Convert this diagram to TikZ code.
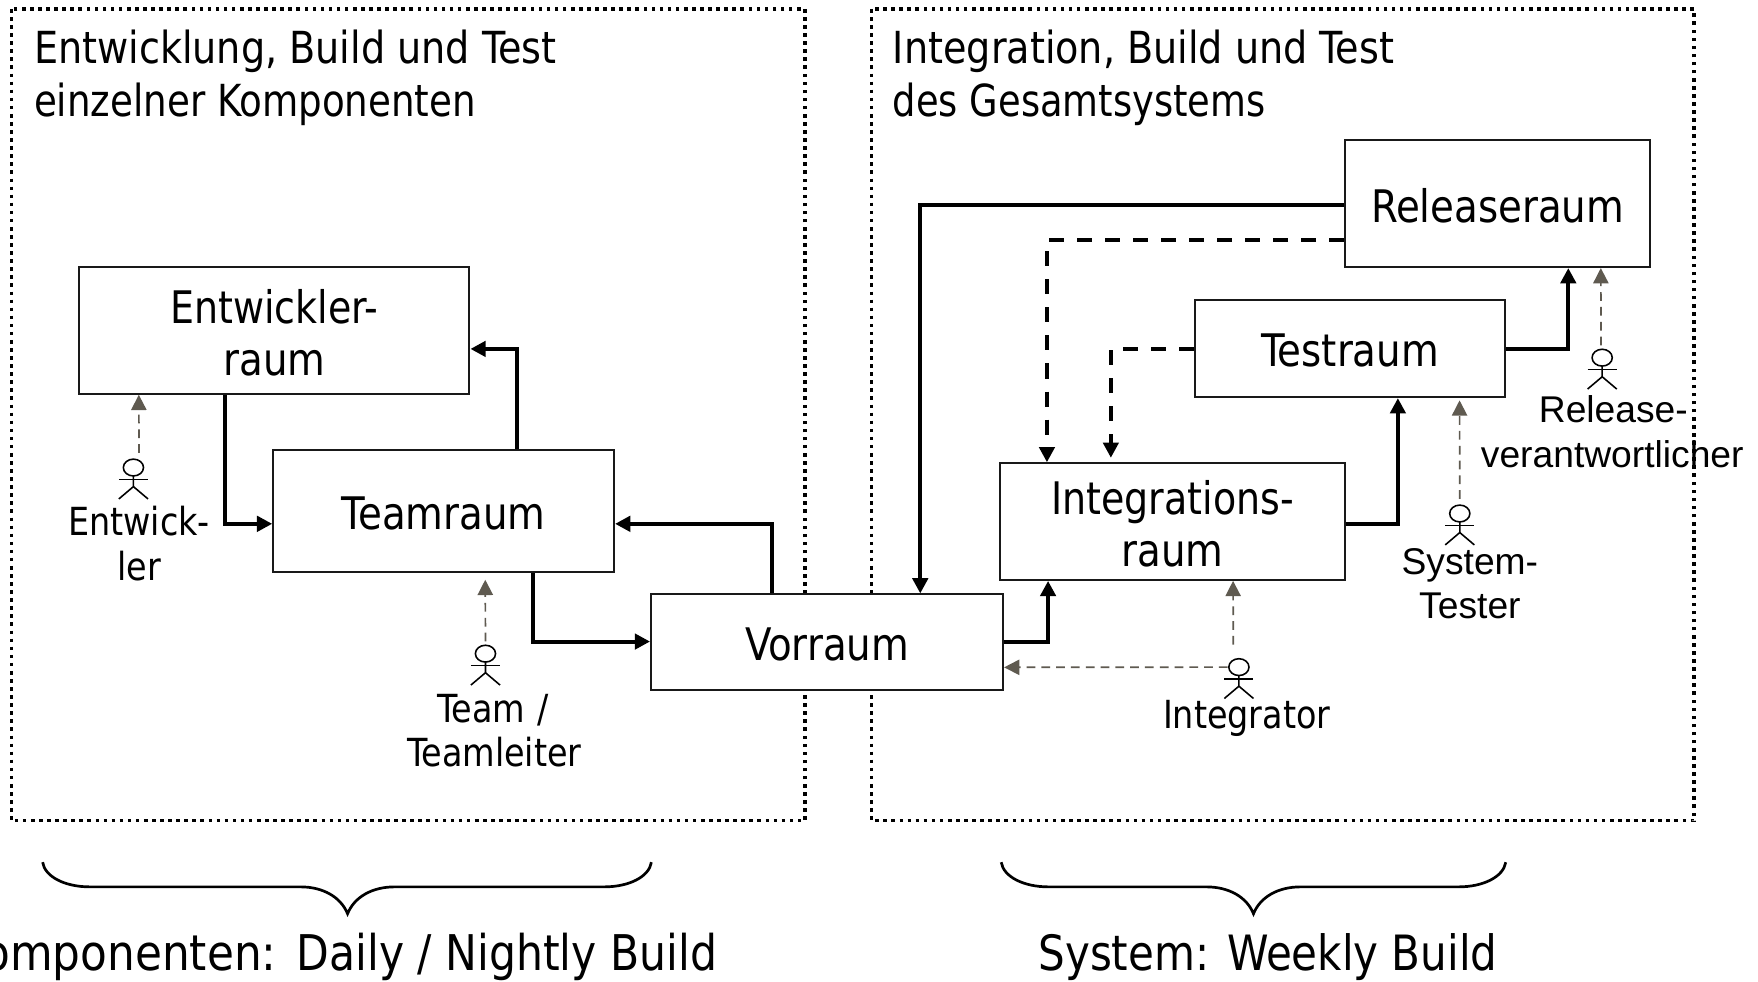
\documentclass[tikz,border=0pt]{standalone}
\usepackage{fontspec}
\setmainfont{DejaVu Sans Condensed}[FakeStretch=0.96]
\newfontfamily\arialf{Liberation Sans}
\usetikzlibrary{arrows.meta,calc}
\definecolor{actgray}{HTML}{5F5A50}
\newcommand{\rl}[1]{\raisebox{-1.1pt}[\height][\depth]{#1}}
\tikzset{
  x=0.5pt,y=-0.5pt,
  room/.style={draw=black!90,line width=0.9pt,fill=white,inner sep=0pt,align=center,font=\fontsize{20}{23}\selectfont},
  area/.style={draw=black,line width=1.5pt,dash pattern=on 1.6pt off 2pt},
  flow/.style={line width=1.8pt,-{Triangle[length=6.8pt,width=6.8pt]}},
  back/.style={line width=1.8pt,dash pattern=on 6.7pt off 5.8pt,-{Triangle[length=6.8pt,width=6.8pt]}},
  role/.style={actgray,line width=0.75pt,dash pattern=on 3.9pt off 2.7pt,-{Triangle[length=6.8pt,width=6.8pt]}},
  title/.style={anchor=base west,inner sep=0pt,font=\fontsize{19.7}{23}\selectfont},
  who/.style={anchor=base,inner sep=0pt,font=\fontsize{17.25}{20}\selectfont},
  whoa/.style={anchor=base,inner sep=0pt,font=\arialf\fontsize{16.6}{20}\selectfont},
  big/.style={anchor=base east,inner sep=0pt,font=\fontsize{21.7}{26}\selectfont},
  brace/.style={line width=1.2pt},
  actor/.style={line width=0.7pt}
}
\newcommand{\actorfig}[2]{%
  \coordinate (#2) at (#1);
  \draw[actor] ($(#2)+(0,0)$) ellipse[x radius=9,y radius=7.5];
  \draw[actor] ($(#2)+(0,7.5)$) -- ($(#2)+(0,17)$) -- ($(#2)+(-13,28)$);
  \draw[actor] ($(#2)+(0,17)$) -- ($(#2)+(13,28)$);
  \draw[actor] ($(#2)+(-13,10.5)$) -- ($(#2)+(13,10.5)$);
}
\begin{document}
\begin{tikzpicture}
\useasboundingbox (0,0) rectangle (1568,875);
\fill[white] (0,0) rectangle (1568,875);
\coordinate (la) at (10,8); \coordinate (lb) at (718,732);
\coordinate (ra) at (777.5,8); \coordinate (rb) at (1511,732);
\draw[area] (la) rectangle (lb);
\draw[area] (ra) rectangle (rb);
\node[title] (t1) at (30,57) {Entwicklung, Build und Test};
\node[title] (t2) at (30,103.5) {\scalebox{0.975}[1]{einzelner Komponenten}};
\node[title] (t3) at (796,57) {Integration, Build und Test};
\node[title] (t4) at (796,103.5) {\scalebox{0.965}[1]{des Gesamtsystems}};

\node[room,minimum width=174pt,minimum height=56.5pt] (ent) at (244.7,294.7) {\rl{\scalebox{0.98}[1]{Entwickler-}}\\\rl{raum}};
\node[room,minimum width=152pt,minimum height=54.5pt] (team) at (395.7,455.7) {\rl{Teamraum}};
\node[room,minimum width=157pt,minimum height=42.5pt] (vor) at (737.7,572.7) {\rl{Vorraum}};
\node[room,minimum width=154pt,minimum height=52pt] (int) at (1045.7,465.2) {\rl{\scalebox{0.98}[1]{Integrations-}}\\\rl{raum}};
\node[room,minimum width=138.5pt,minimum height=43.5pt] (test) at (1204.2,310.7) {\rl{Testraum}};
\node[room,minimum width=136pt,minimum height=56.5pt] (rel) at (1335.7,181.7) {\rl{Releaseraum}};

\draw[flow] ($(ent.south west)+(131,0)$) |- ($(team.west)+(0,11.5)$);
\draw[flow] ($(team.north west)+(218,0)$) |- ($(ent.east)+(0,16.5)$);
\draw[flow] ($(team.south west)+(233,0)$) |- ($(vor.west)+(0,-0.5)$);
\draw[flow] ($(vor.north west)+(109,0)$) |- ($(team.east)+(0,11.5)$);
\draw[flow] ($(vor.east)+(0,-0.5)$) -| ($(int.south west)+(44,0)$);
\draw[flow] ($(int.east)+(0,2)$) -| ($(test.south west)+(182,0)$);
\draw[flow] ($(test.east)+(0,0.5)$) -| ($(rel.south west)+(200,0)$);
\draw[flow] ($(rel.west)+(0,1.5)$) -| ($(vor.north west)+(241,0)$);
\draw[back] ($(rel.west)+(0,32.5)$) -| ($(int.north west)+(43,0)$);
\draw[back] ($(test.west)+(0,0.5)$) -| ($(int.north west)+(100,-4)$);

\actorfig{119,417}{a1}
\actorfig{433,583}{a2}
\actorfig{1105,595}{a3}
\actorfig{1302,458}{a4}
\actorfig{1429,319}{a5}
\draw[role] ($(a1)+(5,-13)$) -- ($(ent.south west)+(54,0)$);
\draw[role] ($(a2)+(0,-11)$) -- ($(team.south west)+(190,6)$);
\draw[role] ($(a3)+(-5,-20)$) -- ($(int.south west)+(209,0)$);
\draw[role] ($(a3)+(-10,0)$) -- ($(vor.east)+(0,22.5)$);
\draw[role] ($(a4)+(0,-13)$) -- ($(test.south west)+(237,2)$);
\draw[role] ($(a5)+(-1,-11)$) -- ($(rel.south west)+(229,0)$);

\node[who] (l1a) at (124,478) {Entwick-};
\node[who] (l1b) at (124,518) {ler};
\node[who] (l2a) at (440,644) {Team\hspace{0.9pt} /};
\node[who] (l2b) at (441,684) {Teamleiter};
\node[who] (l3) at (1112,650) {Integrator};
\node[whoa] (l4a) at (1311,512) {System-};
\node[whoa] (l4b) at (1311,552) {Tester};
\node[whoa] (l5a) at (1439,377) {Release-};
\node[whoa] (l5b) at (1438,417) {verantwortlicher};

\coordinate (b1) at (38,769); \coordinate (b1t) at (310,815); \coordinate (b1e) at (581,769);
\coordinate (b2) at (893,769); \coordinate (b2t) at (1118,815); \coordinate (b2e) at (1343,769);
\draw[brace] (b1) .. controls ($(b1)+(2,13)$) and ($(b1)+(20,22)$) .. ($(b1)+(42,22)$) -- ($(b1t)+(-42,-24)$) .. controls ($(b1t)+(-22,-24)$) and ($(b1t)+(-6,-15)$) .. (b1t) .. controls ($(b1t)+(6,-15)$) and ($(b1t)+(22,-24)$) .. ($(b1t)+(42,-24)$) -- ($(b1e)+(-42,22)$) .. controls ($(b1e)+(-20,22)$) and ($(b1e)+(-2,13)$) .. (b1e);
\draw[brace] (b2) .. controls ($(b2)+(2,13)$) and ($(b2)+(20,22)$) .. ($(b2)+(42,22)$) -- ($(b2t)+(-42,-24)$) .. controls ($(b2t)+(-22,-24)$) and ($(b2t)+(-6,-15)$) .. (b2t) .. controls ($(b2t)+(6,-15)$) and ($(b2t)+(22,-24)$) .. ($(b2t)+(42,-24)$) -- ($(b2e)+(-42,22)$) .. controls ($(b2e)+(-20,22)$) and ($(b2e)+(-2,13)$) .. (b2e);
\node[big,font=\fontsize{21.95}{26}\selectfont] (c1) at (640,866) {\scalebox{1.03}[1]{Komponenten:}\hspace{3pt} Daily / Nightly Build};
\node[big] (c2) at (1336,866) {System: Weekly Build};
\end{tikzpicture}
\end{document}
